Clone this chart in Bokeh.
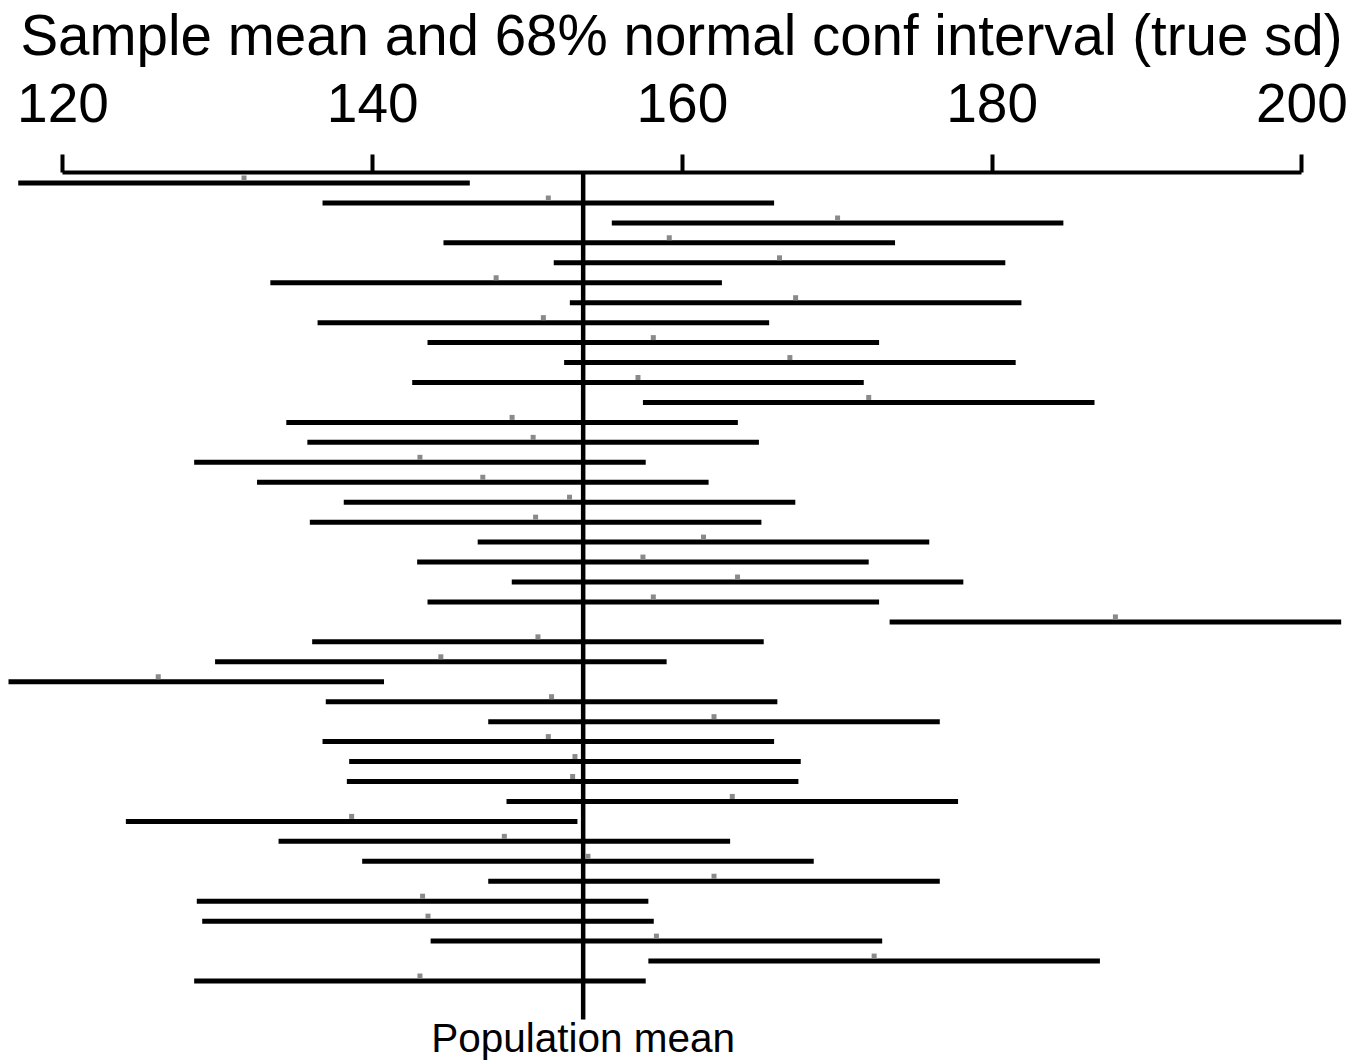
from bokeh.plotting import figure
from bokeh.models import Range1d, FixedTicker
from bokeh.embed import file_html
from bokeh.resources import INLINE
from bokeh.core.properties import value
import numpy as np

# ---- data ----
sample_means = [131.69, 151.34, 170.02, 159.15, 166.27, 147.97, 167.31, 151.02,
                158.12, 166.94, 157.13, 172.03, 149.00, 150.36, 143.05, 147.11,
                152.71, 150.52, 161.36, 157.45, 163.56, 158.12, 187.96, 150.67,
                144.40, 126.15, 151.55, 162.04, 151.34, 153.06, 152.91, 163.22,
                138.64, 148.50, 153.90, 162.04, 143.22, 143.57, 158.32, 172.38,
                143.05]
half_width = 14.58          # 1 * sd / sqrt(n)  (68% normal interval)
pop_mean = 153.59
tick_values = [120, 140, 160, 180, 200]
title_text = "Sample mean and 68% normal conf interval (true sd)"
mean_label = "Population mean"

rows = np.arange(1, len(sample_means) + 1)
means = np.array(sample_means)
lo = means - half_width
hi = means + half_width

FONT = "Liberation Sans"

p = figure(width=1354, height=1064, output_backend="svg", toolbar_location=None,
           x_axis_location="above", y_axis_location=None,
           x_range=Range1d(116.481, 203.40), y_range=Range1d(45.186, 0.4737),
           min_border_left=8, min_border_right=0, min_border_top=172,
           min_border_bottom=0, background_fill_color="white",
           border_fill_color="white")
p.outline_line_color = None
p.xgrid.visible = False
p.ygrid.visible = False

# top axis (its label serves as the chart title)
ax = p.xaxis[0]
ax.ticker = FixedTicker(ticks=tick_values)
ax.bounds = (tick_values[0], tick_values[-1])
ax.axis_line_width = 4
ax.axis_line_color = "black"
ax.major_tick_line_width = 4
ax.major_tick_line_color = "black"
ax.major_tick_out = 18
ax.major_tick_in = 0
ax.minor_tick_line_color = None
ax.major_label_text_font = FONT
ax.major_label_text_font_size = "55px"
ax.major_label_text_color = "black"
ax.major_label_standoff = 33
ax.axis_label = title_text
ax.axis_label_text_font = FONT
ax.axis_label_text_font_size = "56.5px"
ax.axis_label_text_font_style = "normal"
ax.axis_label_text_color = "black"
ax.axis_label_standoff = 14

# intervals
p.segment(x0=lo, x1=hi, y0=rows, y1=rows, line_width=5, line_color="black")

# population mean line
p.segment(x0=[pop_mean], x1=[pop_mean], y0=[0.4737], y1=[42.93],
          line_width=4.5, line_color="black")

# sample means
p.scatter(x=means, y=rows - 0.25, marker="square", size=5,
          fill_color="#8a8a8a", line_color=None)

# label under the mean line
p.text(x=[pop_mean], y=[43.85], text=[mean_label], text_align="center",
       text_baseline="middle", text_font=value(FONT), text_font_size="40.5px",
       text_color="black")

open("out.html", "w").write(file_html(p, INLINE))
